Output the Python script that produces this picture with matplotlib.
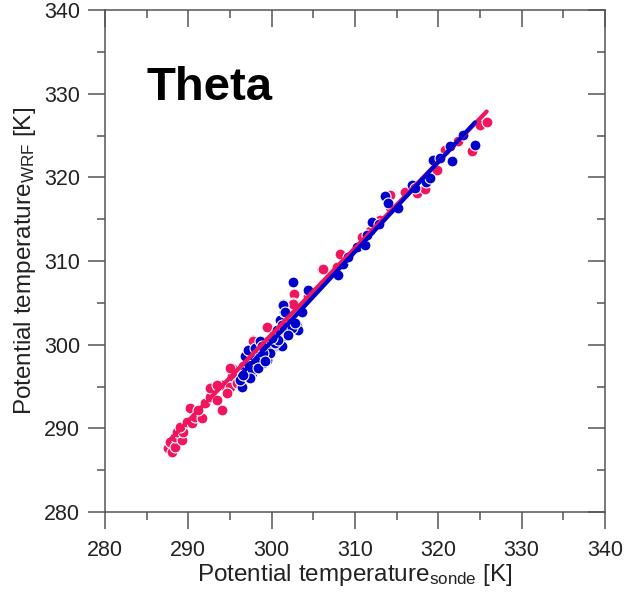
import numpy as np
import matplotlib
matplotlib.use("Agg")
import matplotlib.pyplot as plt
from matplotlib.ticker import MultipleLocator

plt.rcParams['font.family'] = ['Liberation Sans', 'DejaVu Sans']
plt.rcParams['mathtext.fontset'] = 'custom'
plt.rcParams['mathtext.rm'] = 'Liberation Sans'
plt.rcParams['mathtext.it'] = 'Liberation Sans'

# --- data (sonde theta, WRF theta) ---
red_sonde = [287.6, 288.0, 287.8, 288.4, 288.4, 289.2, 288.6, 289.4, 289.0, 289.8, 290.4,
             290.2, 290.8, 291.6, 291.2, 292.0, 292.6, 293.4, 294.0, 292.8, 294.0, 295.0,
             294.6, 292.6, 293.4, 295.2, 295.2, 295.8, 295.0, 297.8, 297.8, 299.6, 299.4,
             302.7, 302.6, 302.6, 306.0, 306.1, 307.8, 308.2, 310.8, 313.0, 314.2, 314.2,
             317.4, 318.4, 319.8, 320.8, 324.0, 325.0, 325.8, 296.6, 298.8, 300.6, 301.8,
             304.4, 311.8, 316.0, 322.4]
red_wrf = [287.6, 287.2, 288.4, 287.8, 289.0, 288.6, 289.6, 289.6, 290.2, 290.8, 290.6,
           292.4, 291.4, 291.2, 292.2, 293.0, 293.8, 293.4, 292.2, 295.0, 295.2, 295.0,
           294.2, 294.8, 295.2, 297.2, 296.2, 295.4, 297.2, 300.6, 300.4, 302.1, 302.1,
           306.1, 305.0, 304.9, 309.1, 309.1, 309.3, 310.8, 312.9, 314.9, 317.9, 316.5,
           318.1, 318.6, 320.9, 323.3, 323.1, 326.3, 326.6, 297.4, 299.6, 301.4, 302.6,
           305.8, 313.6, 318.2, 324.4]

blue_sonde = [296.4, 296.2, 297.0, 296.8, 297.6, 297.2, 298.0, 299.0, 296.8, 297.6, 298.6,
              299.4, 297.2, 298.0, 299.2, 300.0, 301.0, 299.6, 298.6, 300.2, 301.4, 300.6,
              303.0, 303.2, 301.0, 301.2, 301.2, 301.3, 301.5, 303.6, 302.6, 304.4, 301.4,
              301.6, 308.0, 308.6, 309.2, 310.2, 311.2, 311.4, 312.0, 312.9, 313.6, 314.0,
              315.2, 316.8, 317.2, 318.5, 319.0, 319.4, 320.2, 321.6, 321.4, 323.0, 324.4,
              297.6, 298.2, 299.8, 300.4, 301.8, 302.4, 302.8, 299.0, 298.4, 300.8, 297.4,
              296.6, 299.2, 300.0, 302.0, 298.8]
blue_wrf = [295.0, 295.8, 296.2, 296.8, 296.6, 297.8, 297.6, 297.8, 298.6, 298.8, 298.6,
            298.2, 299.4, 299.6, 299.4, 299.6, 299.8, 300.4, 300.4, 301.0, 301.0, 301.8,
            302.2, 301.8, 302.9, 302.3, 299.8, 304.9, 303.9, 303.9, 307.5, 306.5, 304.7,
            303.9, 308.3, 309.7, 310.5, 311.7, 311.9, 313.1, 314.7, 314.4, 317.8, 316.9,
            316.3, 319.1, 318.7, 319.5, 319.9, 322.1, 322.3, 321.9, 323.7, 325.1, 323.9,
            297.0, 298.0, 299.0, 300.2, 301.4, 302.0, 302.6, 299.0, 297.2, 300.6, 296.0,
            296.4, 298.0, 300.8, 301.2, 299.8]

RED = '#F0165E'
BLUE = '#0000CC'

fig = plt.figure(figsize=(6.26, 5.96), dpi=100)
ax = fig.add_axes([105/626, 84/596, 500/626, 502/596])

ax.scatter(red_sonde, red_wrf, s=62, color=RED, edgecolors='white', linewidths=0.8, zorder=2)
ax.scatter(blue_sonde, blue_wrf, s=62, color=BLUE, edgecolors='white', linewidths=0.8, zorder=3)

# least-squares fit lines over each data range
for xs, ys, c, z in [(red_sonde, red_wrf, RED, 4), (blue_sonde, blue_wrf, BLUE, 5)]:
    xs = np.asarray(xs); ys = np.asarray(ys)
    k, b = np.polyfit(xs, ys, 1)
    xx = np.array([xs.min(), xs.max()])
    ax.plot(xx, k * xx + b, color=c, linewidth=3, solid_capstyle='round', zorder=z)

ax.set_xlim(280, 340)
ax.set_ylim(280, 340)
ax.xaxis.set_major_locator(MultipleLocator(10))
ax.yaxis.set_major_locator(MultipleLocator(10))
ax.xaxis.set_minor_locator(MultipleLocator(5))
ax.yaxis.set_minor_locator(MultipleLocator(5))

for s in ax.spines.values():
    s.set_color('#555555')
    s.set_linewidth(1.1)

# outward ticks on left/bottom, inward on top/right (NCL style)
ax.tick_params(which='both', direction='out', colors='#555555', width=1.1,
               labelcolor='#222222', labelsize=15.5)
ax.tick_params(which='major', length=12, pad=6)
ax.tick_params(which='minor', length=6)
ax.tick_params(axis='x', pad=8)
sec_x = ax.secondary_xaxis('top')
sec_y = ax.secondary_yaxis('right')
sec_x.xaxis.set_major_locator(MultipleLocator(10))
sec_x.xaxis.set_minor_locator(MultipleLocator(5))
sec_y.yaxis.set_major_locator(MultipleLocator(10))
sec_y.yaxis.set_minor_locator(MultipleLocator(5))
for sec in (sec_x, sec_y):
    sec.tick_params(which='both', direction='in', colors='#555555', width=1.1,
                    labelleft=False, labelright=False, labeltop=False, labelbottom=False)
    sec.tick_params(which='major', length=12)
    sec.tick_params(which='minor', length=6)
    for s in sec.spines.values():
        s.set_visible(False)

ax.set_xlabel(r'Potential temperature$_{\mathrm{sonde}}$ [K]', fontsize=17.5, color='#222222', labelpad=1)
ax.set_ylabel(r'Potential temperature$_{\mathrm{WRF}}$ [K]', fontsize=17.5, color='#222222', labelpad=4)

ax.text(285.0, 329.3, 'Theta', fontsize=34, fontweight='bold', ha='left', va='baseline', color='black')

fig.savefig('out.png', dpi=100)
